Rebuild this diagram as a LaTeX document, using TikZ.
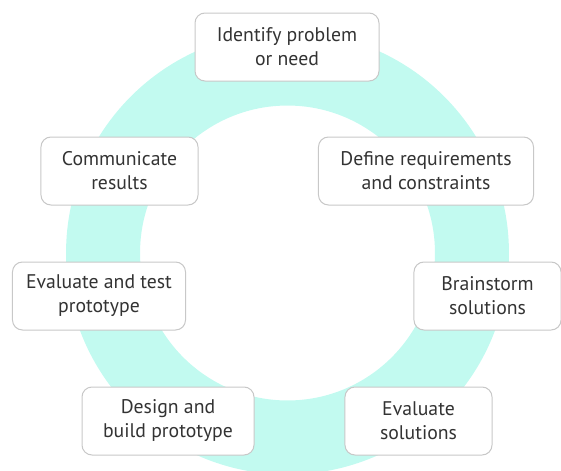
\documentclass[tikz,border=0pt]{standalone}
\usepackage{fontspec}
\setmainfont{PT Sans}
\usepackage{xcolor}
\usepackage{tikz}
\usetikzlibrary{positioning}

\definecolor{ringcol}{HTML}{C2FAF0}
\definecolor{boxline}{HTML}{C8C8C8}
\definecolor{txtcol}{HTML}{333333}

\begin{document}
\begin{tikzpicture}[
    x=0.75pt, y=-0.75pt,
    stage/.style={rectangle, rounded corners=7.5pt, draw=boxline, line width=0.75pt, fill=white,
        text=txtcol, align=center, minimum height=51pt, inner xsep=6pt,
        font=\fontsize{14.8pt}{18pt}\selectfont}
]
    \useasboundingbox (0,0) rectangle (561,471);
    % ring behind the stages
    \begin{scope}
        \clip (0,0) rectangle (561,471);
        \fill[ringcol, even odd rule] (287.5,253) circle[radius=166.1pt] (287.5,253) circle[radius=110.6pt];
    \end{scope}

    \node[stage, minimum width=138pt] (identify) at (287,47) {Identify problem\\or need};
    \node[stage, minimum width=161.3pt] (define) at (426,171) {Define requirements\\and constraints};
    \node[stage, minimum width=110.3pt] (brainstorm) at (487.5,296) {Brainstorm\\solutions};
    \node[stage, minimum width=110.3pt] (evalsol) at (418.5,421) {Evaluate\\solutions};
    \node[stage, minimum width=129pt] (design) at (168,421) {Design and\\build prototype};
    \node[stage, minimum width=129.8pt] (evaltest) at (99,296) {Evaluate and test\\prototype};
    \node[stage, minimum width=117.8pt] (communicate) at (119.5,171) {Communicate\\results};
\end{tikzpicture}
\end{document}
